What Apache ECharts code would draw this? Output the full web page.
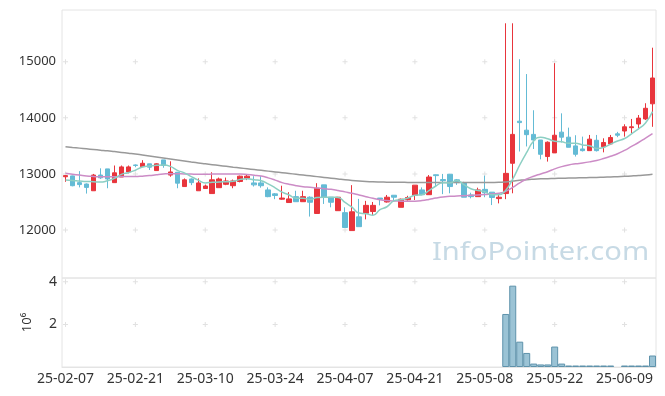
<!DOCTYPE html>
<html>
<head>
<meta charset="utf-8">
<script src="https://cdn.jsdelivr.net/npm/echarts@6/dist/echarts.min.js"></script>
<style>
html,body{margin:0;padding:0;background:#fff;}
#chart{width:665px;height:396px;}
</style>
</head>
<body>
<div id="chart"></div>
<script>
const dates = ['25-02-07','25-02-10','25-02-11','25-02-12','25-02-13','25-02-14','25-02-17','25-02-18','25-02-19','25-02-20',
'25-02-21','25-02-24','25-02-25','25-02-26','25-02-27','25-02-28','25-03-04','25-03-05','25-03-06','25-03-07',
'25-03-10','25-03-11','25-03-12','25-03-13','25-03-14','25-03-17','25-03-18','25-03-19','25-03-20','25-03-21',
'25-03-24','25-03-25','25-03-26','25-03-27','25-03-28','25-03-31','25-04-01','25-04-02','25-04-03','25-04-04',
'25-04-07','25-04-08','25-04-09','25-04-10','25-04-11','25-04-14','25-04-15','25-04-16','25-04-17','25-04-18',
'25-04-21','25-04-22','25-04-23','25-04-24','25-04-25','25-04-28','25-04-29','25-04-30','25-05-02','25-05-07',
'25-05-08','25-05-09','25-05-12','25-05-13','25-05-14','25-05-15','25-05-16','25-05-19','25-05-20','25-05-21',
'25-05-22','25-05-23','25-05-26','25-05-27','25-05-28','25-05-29','25-05-30','25-06-02','25-06-04','25-06-05',
'25-06-09','25-06-10','25-06-11','25-06-12','25-06-13'];

const open = [12950,12965,12845,12820,12700,12980,13090,12845,12945,13035,
13160,13130,13180,13060,13250,12980,13030,12775,12910,12700,
12740,12650,12755,12815,12790,12865,12925,12840,12840,12715,
12645,12550,12490,12595,12505,12585,12295,12805,12585,12345,
12310,11990,12235,12300,12330,12570,12500,12620,12405,12540,
12620,12715,12630,12985,12900,12995,12895,12845,12625,12595,
12725,12675,12560,12650,13190,13940,13780,13705,13605,13310,
13375,13745,13655,13500,13445,13415,13600,13485,13535,13715,
13765,13825,13890,13980,14250];

const close = [12970,12790,12810,12760,12980,12930,12910,13020,13125,13125,
13150,13190,13120,13180,13150,13035,12835,12895,12845,12840,
12785,12895,12910,12875,12875,12960,12960,12805,12790,12595,
12615,12570,12555,12505,12595,12495,12745,12585,12495,12585,
12045,12325,12060,12440,12440,12550,12585,12585,12550,12580,
12800,12630,12945,12970,12880,12775,12845,12585,12595,12715,
12665,12580,12585,13010,13705,13915,13700,13605,13350,13565,
13690,13655,13475,13350,13415,13620,13415,13560,13650,13690,
13840,13840,13995,14170,14710];

const low = [12860,12780,12760,12650,12700,12910,12745,12845,12945,13010,
13120,13130,13070,13060,13110,12950,12745,12775,12800,12700,
12740,12650,12755,12800,12745,12850,12890,12775,12755,12585,
12550,12540,12490,12505,12505,12240,12295,12465,12405,12345,
12045,11990,12060,12190,12270,12440,12490,12520,12405,12525,
12535,12620,12630,12775,12640,12655,12805,12585,12565,12595,
12585,12445,12475,12550,12655,13400,13490,13445,13260,13220,
13375,13560,13475,13310,13400,13415,13400,13385,13515,13655,
13665,13725,13815,13960,13840];

const high = [12980,12970,13050,12830,13000,13100,13090,13150,13150,13150,
13170,13245,13180,13190,13250,13225,13030,12920,12920,12920,
12810,13030,12935,12935,12900,12970,12985,12960,12960,12760,
12660,12790,12675,12700,12700,12600,12835,12805,12585,12590,
12405,12800,12555,12520,12500,12570,12625,12620,12560,12610,
12800,12760,12980,12990,13000,13000,12910,12860,12665,12755,
12970,12675,12655,15685,15685,15045,14780,14135,13605,13580,
14975,14080,13825,13690,13665,13695,13695,13635,13695,13750,
13885,13980,14050,14260,15250];

const ma5 = [12893,12885,12875,12866,12862,12854,12878,12920,12993,13022,
13066,13122,13142,13153,13158,13135,13064,13019,12952,12890,
12840,12852,12855,12861,12868,12903,12916,12895,12878,12822,
12753,12675,12625,12568,12568,12544,12579,12585,12583,12581,
12491,12407,12302,12291,12262,12363,12415,12520,12542,12570,
12620,12629,12701,12785,12845,12840,12883,12811,12736,12703,
12681,12628,12628,12711,12909,13159,13383,13587,13655,13627,
13582,13573,13547,13547,13517,13503,13455,13472,13532,13587,
13631,13716,13803,13907,14111];

const ma20 = [13010,12995,12980,12965,12955,12948,12948,12950,12952,12952,
12953,12960,12970,12985,12998,13005,13003,13000,12997,12995,
12995,12997,12998,13000,13000,12998,12990,12978,12962,12930,
12890,12845,12815,12790,12772,12762,12750,12738,12725,12705,
12680,12655,12625,12595,12565,12540,12525,12518,12515,12513,
12515,12525,12545,12570,12590,12600,12608,12612,12618,12624,
12632,12642,12655,12690,12760,12840,12910,12960,13000,13040,
13090,13130,13160,13180,13195,13215,13240,13275,13315,13360,
13420,13490,13560,13640,13720];

const maLong = [13485,13472,13460,13448,13436,13424,13412,13398,13384,13370,
13356,13338,13320,13302,13284,13266,13248,13230,13212,13195,
13180,13165,13150,13135,13120,13106,13092,13078,13064,13050,
13036,13022,13008,12994,12980,12966,12952,12938,12924,12910,
12896,12884,12874,12866,12860,12856,12853,12851,12850,12849,
12848,12847,12847,12846,12846,12846,12846,12846,12846,12846,
12847,12848,12850,12858,12872,12886,12898,12906,12912,12916,
12920,12923,12926,12929,12932,12935,12938,12942,12946,12951,
12957,12964,12972,12982,12995];

const volume = [0,0,0,0,0,0,0,0,0,0,
0,0,0,0,0,0,0,0,0,0,
0,0,0,0,0,0,0,0,0,0,
0,0,0,0,0,0,0,0,0,0,
0,0,0,0,0,0,0,0,0,0,
0,0,0,0,0,0,0,0,0,0,
0,0,0,2490000,3820000,1190000,660000,160000,120000,120000,
960000,160000,70000,70000,70000,70000,70000,70000,70000,'-',
70000,70000,70000,70000,540000];

const priceTicks = [12000,13000,14000,15000];
const volTicks = [2000000,4000000];
const labelEvery = 10;

const tickIdx = [];
for (let i = 0; i < dates.length; i += labelEvery) tickIdx.push(i);
const crossMain = [], crossVol = [];
tickIdx.forEach(i => {
  priceTicks.forEach(v => crossMain.push([i, v]));
  volTicks.forEach(v => crossVol.push([i, v]));
});

const candleData = open.map((o, i) => [o, close[i], low[i], high[i]]);
const volData = volume.map(v => (v === 0 ? {value: 0, itemStyle: {borderWidth: 0, opacity: 0}} : v));
const FONT = 'Noto Sans';
const crossSymbol = 'path://M2,0H3V5H2Z M0,2H5V3H0Z';

const chart = echarts.init(document.getElementById('chart'), null, {renderer: 'canvas'});
chart.setOption({
  animation: false,
  backgroundColor: '#ffffff',
  textStyle: {fontFamily: FONT},
  grid: [
    {left: 62, right: 9, top: 10, height: 268, show: true, borderColor: '#e4e4e4', borderWidth: 1},
    {left: 62, right: 9, top: 278, height: 89, show: true, borderColor: '#e4e4e4', borderWidth: 1}
  ],
  xAxis: [
    {type: 'category', gridIndex: 0, data: dates, boundaryGap: true,
     axisLine: {show: false}, axisTick: {show: false}, axisLabel: {show: false}, splitLine: {show: false}},
    {type: 'category', gridIndex: 1, data: dates, boundaryGap: true,
     axisLine: {show: true, lineStyle: {color: '#e4e4e4'}}, axisTick: {show: false},
     axisLabel: {show: true, interval: labelEvery - 1, color: '#333', fontSize: 14, fontFamily: FONT, margin: 5},
     splitLine: {show: false}}
  ],
  yAxis: [
    {type: 'value', gridIndex: 0, min: 11145, max: 15922, splitNumber: 5, scale: true,
     axisLine: {show: false}, axisTick: {show: false}, splitLine: {show: false},
     axisLabel: {color: '#333', fontSize: 13, fontFamily: FONT, margin: 6, showMinLabel: false, showMaxLabel: false,
       formatter: v => priceTicks.indexOf(v) >= 0 ? String(v) : ''}},
    {type: 'value', gridIndex: 1, min: 0, max: 4180000, splitNumber: 4,
     axisLine: {show: false}, axisTick: {show: false}, splitLine: {show: false},
     name: '10\u2076', nameLocation: 'middle', nameRotate: 90, nameGap: 28,
     nameTextStyle: {color: '#333', fontSize: 13, fontFamily: FONT},
     axisLabel: {color: '#333', fontSize: 14, fontFamily: FONT, margin: 5, showMinLabel: false, showMaxLabel: false,
       formatter: v => volTicks.indexOf(v) >= 0 ? String(v / 1000000) : ''}}
  ],
  graphic: [{
    type: 'text', x: 432, y: 253, z: 0, scaleX: 1.12, scaleY: 1,
    style: {text: 'InfoPointer.com', fill: '#c7dae5', font: '26px "Noto Sans"', align: 'left', verticalAlign: 'middle'}
  }],
  series: [
    {type: 'scatter', xAxisIndex: 0, yAxisIndex: 0, data: crossMain, symbol: crossSymbol, symbolSize: 5,
     itemStyle: {color: '#d9d9d9'}, silent: true, z: 1},
    {type: 'scatter', xAxisIndex: 1, yAxisIndex: 1, data: crossVol, symbol: crossSymbol, symbolSize: 5,
     itemStyle: {color: '#d9d9d9'}, silent: true, z: 1},
    {type: 'candlestick', xAxisIndex: 0, yAxisIndex: 0, data: candleData, barWidth: 5, z: 3,
     itemStyle: {color: '#e8353c', color0: '#64bbd5', borderColor: '#e8353c', borderColor0: '#64bbd5', borderWidth: 1}},
    {type: 'line', xAxisIndex: 0, yAxisIndex: 0, data: maLong, symbol: 'none', smooth: true, z: 4,
     lineStyle: {color: '#999999', width: 1.5}},
    {type: 'line', xAxisIndex: 0, yAxisIndex: 0, data: ma20, symbol: 'none', smooth: true, z: 4,
     lineStyle: {color: '#cc8cc6', width: 1.5}},
    {type: 'line', xAxisIndex: 0, yAxisIndex: 0, data: ma5, symbol: 'none', smooth: true, z: 4,
     lineStyle: {color: '#8ccfc3', width: 1.5}},
    {type: 'bar', xAxisIndex: 1, yAxisIndex: 1, data: volData, barCategoryGap: '0%', z: 3,
     itemStyle: {color: 'rgba(130,180,203,0.8)', borderColor: '#5e92ab', borderWidth: 1}}
  ]
});
</script>
</body>
</html>
